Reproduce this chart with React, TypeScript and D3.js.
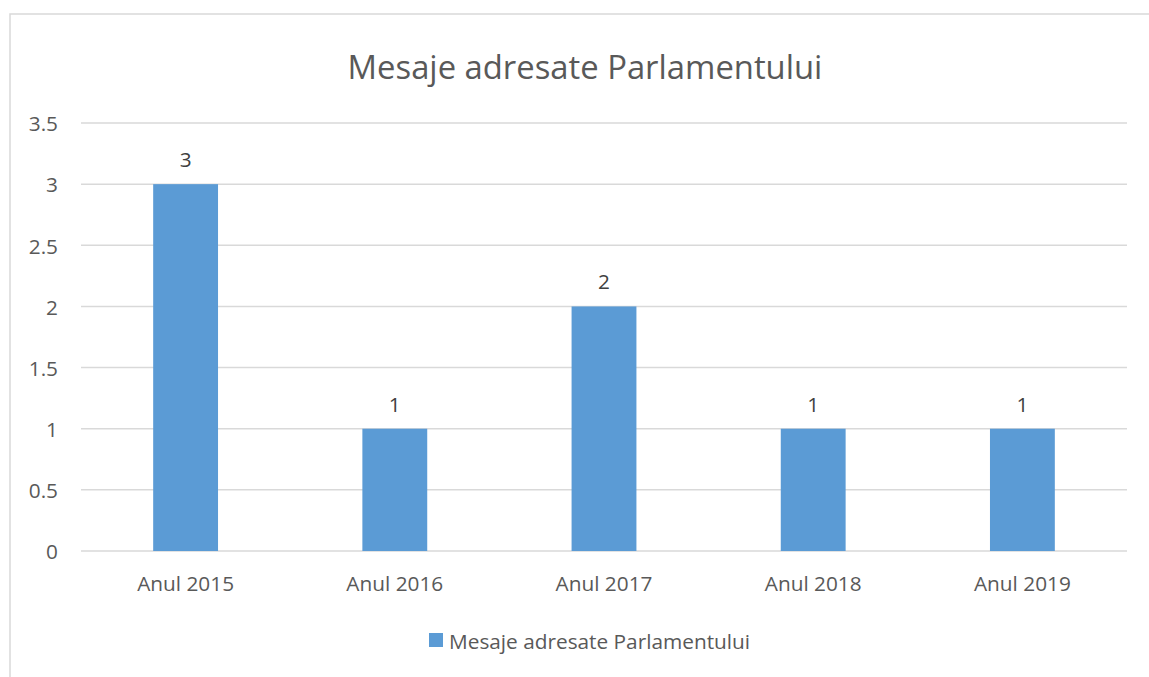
import React from "react";
import * as d3 from "d3";

const categories = ["Anul 2015", "Anul 2016", "Anul 2017", "Anul 2018", "Anul 2019"];
const values = [3, 1, 2, 1, 1];
const yTicks = [0, 0.5, 1, 1.5, 2, 2.5, 3, 3.5];
const title = "Mesaje adresate Parlamentului";
const seriesName = "Mesaje adresate Parlamentului";

const W = 1149;
const H = 677;
const FONT = "'Open Sans', sans-serif";
const TEXT = "#595959";
const BAR = "#5b9bd5";
const GRID = "#d9d9d9";

export default function App() {
  const x = d3.scaleBand<string>().domain(categories).range([81, 1127]).paddingInner(0.69).paddingOuter(0.345);
  const y = d3.scaleLinear().domain([0, 3.5]).range([551, 123]);
  return (
    <svg width={W} height={H} style={{ position: "absolute", left: 0, top: 0 }}>
      <rect x={0} y={0} width={W} height={H} fill="#fff" />
      <rect x={10} y={14} width={W + 20} height={H + 20} fill="none" stroke={GRID} strokeWidth={1.5} />
      <text x={585} y={79} textAnchor="middle" fontFamily={FONT} fontSize={32.8} fill={TEXT}>{title}</text>
      {yTicks.map((t) => (
        <g key={t}>
          <line x1={81} x2={1127} y1={y(t)} y2={y(t)} stroke={GRID} strokeWidth={1.5} />
          <text x={58} y={y(t) + 1} dy="0.35em" textAnchor="end" fontFamily={FONT} fontSize={20.8} fill={TEXT}>{String(t)}</text>
        </g>
      ))}
      {categories.map((c, i) => (
        <g key={c}>
          <rect x={x(c)} y={y(values[i])} width={x.bandwidth()} height={y(0) - y(values[i])} fill={BAR} />
          <text x={(x(c) as number) + x.bandwidth() / 2} y={y(values[i]) - 17} textAnchor="middle" fontFamily={FONT} fontSize={20.8} fill={"#404040"}>{String(values[i])}</text>
          <text x={(x(c) as number) + x.bandwidth() / 2} y={591} textAnchor="middle" fontFamily={FONT} fontSize={20.8} fill={TEXT}>{c}</text>
        </g>
      ))}
      <rect x={429} y={633} width={14} height={14} fill={BAR} />
      <text x={449} y={649} fontFamily={FONT} fontSize={20.8} fill={TEXT}>{seriesName}</text>
    </svg>
  );
}
